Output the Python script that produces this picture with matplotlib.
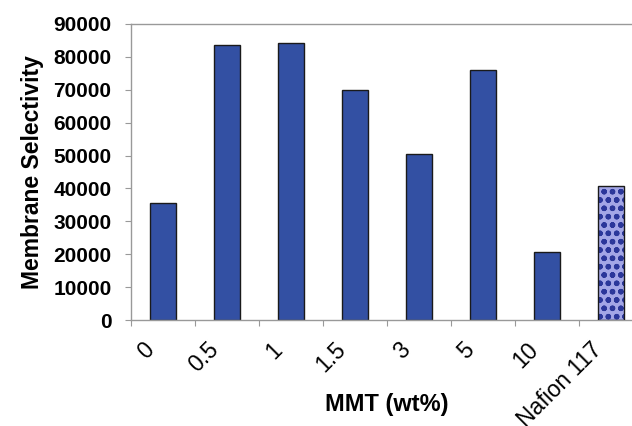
import matplotlib
matplotlib.use('agg')
import matplotlib.pyplot as plt
import numpy as np

# MMT loading categories and measured selectivity
categories = ["0", "0.5", "1", "1.5", "3", "5", "10", "Nafion 117"]
selectivity = [35500, 83600, 84300, 69900, 50500, 76000, 20600, 40600]
yticks = [0, 10000, 20000, 30000, 40000, 50000, 60000, 70000, 80000, 90000]

plt.rcParams['font.family'] = ['Liberation Sans', 'DejaVu Sans']
plt.rcParams['hatch.linewidth'] = 1.6

fig = plt.figure(figsize=(6.32, 4.26), dpi=100)
# plot area runs past the right edge of the picture, as in the original crop
ax = fig.add_axes([131 / 632, 1 - 320 / 426, 512 / 632, 296 / 426])

x = np.arange(len(categories))
solid = x[:-1]
ax.bar(solid, selectivity[:-1], width=0.41, color="#3350A3",
       edgecolor="#1a1a1a", linewidth=1.0, zorder=2)

# Nafion reference bar: dotted fill
ax.bar(x[-1:], selectivity[-1:], width=0.41, color="#A3A6E6",
       edgecolor="#2B379A", hatch="oo", linewidth=0, zorder=2)
ax.bar(x[-1:], selectivity[-1:], width=0.41, fill=False,
       edgecolor="#1a1a1a", linewidth=1.0, zorder=3)

ax.set_xlim(-0.5, len(categories) - 0.5)
ax.set_ylim(0, 90000)
ax.set_yticks(yticks)
ax.set_yticklabels([str(v) for v in yticks], fontsize=15, fontweight="bold")

# ticks sit between categories; rotated labels hang a bit left of bar centres
ax.set_xticks(np.arange(len(categories) + 1) - 0.5)
ax.set_xticklabels([])
ax.set_xticks(x - 0.32, minor=True)
ax.set_xticklabels(categories, minor=True, rotation=45, ha="right",
                   va="top", rotation_mode="anchor", fontsize=16.5)
ax.tick_params(axis="x", which="minor", length=0, pad=13)
ax.tick_params(axis="x", which="major", length=4, color="#999999")
ax.tick_params(axis="y", length=4, color="#999999", pad=10)

for side in ["left", "bottom", "top", "right"]:
    ax.spines[side].set_color("#999999")
    ax.spines[side].set_linewidth(1.0)

ax.set_ylabel("Membrane Selectivity", fontsize=16.5, fontweight="bold")
ax.yaxis.set_label_coords(-0.17, 0.5)
ax.set_xlabel("MMT (wt%)", fontsize=17, fontweight="bold")
ax.xaxis.set_label_coords(0.5, -0.245)

plt.savefig("out.png", dpi=100)
